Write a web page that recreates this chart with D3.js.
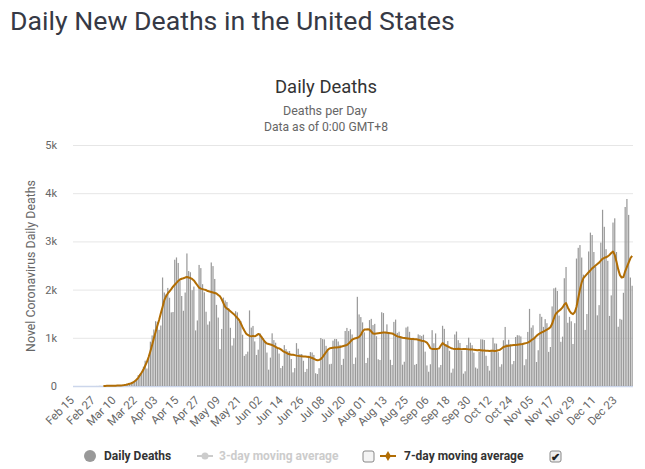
<!DOCTYPE html>
<html>
<head>
<meta charset="utf-8">
<script src="https://cdn.jsdelivr.net/npm/d3@7"></script>
<style>
  body { margin: 0; background: #fff; }
  text { font-family: Roboto, "Noto Sans", sans-serif; }
</style>
</head>
<body>
<svg id="chart" width="645" height="469"></svg>
<script>
// categories: one per day, Feb 15 2020 .. Jan 01 2021
var categories = d3.timeDay.range(new Date(2020, 1, 15), new Date(2021, 0, 2)).map(d3.timeFormat("%b %d"));

var tickLabels = ["Feb 15","Feb 27","Mar 10","Mar 22","Apr 03","Apr 15","Apr 27","May 09","May 21",
  "Jun 02","Jun 14","Jun 26","Jul 08","Jul 20","Aug 01","Aug 13","Aug 25","Sep 06","Sep 18",
  "Sep 30","Oct 12","Oct 24","Nov 05","Nov 17","Nov 29","Dec 11","Dec 23"];

var yTicks = [0, 1000, 2000, 3000, 4000, 5000];

// daily deaths, month by month
var deathsFeb = [0,0,0,0,0,0,0,0,0,0,0,0,0,1,1];
var deathsMar = [4,1,4,1,3,3,4,4,5,8,7,11,9,12,18,23,41,54,56,85,113,143,225,247,268,400,525,363,573,920,1049];
var deathsApr = [1172,1344,1330,1165,1255,2251,1940,1901,2035,1831,1528,1535,2620,2667,2553,2185,1867,1561,1939,2750,
  2385,2360,1988,2063,1153,1360,2512,2446,2112,1944];
var deathsMay = [1541,1273,1341,2563,2488,2221,1683,1420,765,1184,1834,1775,1742,1616,1207,839,991,1552,1528,1336,
  1347,1064,625,661,713,1568,1212,1246,925,644,754];
var deathsJun = [1096,1032,992,913,694,339,589,1093,952,898,794,673,372,417,848,765,718,727,560,283,
  372,889,773,663,664,524,291,355,627,703];
var deathsJul = [695,645,264,249,369,996,972,968,833,744,451,461,941,977,974,924,853,437,564,1141,
  1205,1140,1178,1069,458,590,1850,1485,1430,1320,1113];
var deathsAug = [477,584,1367,1393,1264,1289,1033,554,540,1530,1513,1124,1279,1088,543,436,1330,1378,1101,1126,
  1017,442,503,1213,1233,1124,980,999,439,457,1071];
var deathsSep = [1054,1036,1064,713,427,296,451,1158,887,1091,753,386,436,1249,1185,871,933,730,276,360,
  1069,1130,951,893,737,256,305,849,1002,898];
var deathsOct = [846,693,383,360,706,970,966,954,627,417,318,750,1001,884,879,701,399,451,949,1225,
  870,960,864,452,519,1016,1054,1049,1028,891,431];
var deathsNov = [556,1122,1600,1210,1260,1025,498,742,1497,1435,1226,1387,1303,708,809,1651,2026,2041,1971,1461,
  917,1024,2236,2469,1312,1434,1343,872,1303,2644];
var deathsDec = [2867,2924,2665,2310,1164,1493,2791,3182,3133,2780,2473,1466,1678,2975,3656,3303,2839,2597,1454,1880,
  3391,3479,2780,1229,1393,1376,1934,3714,3880,3550,2250,2080];

// 7-day moving average as drawn
var avgFeb = [null,null,null,null,null,null,null,null,null,null,null,null,null,null,null];
var avgMar = [null,null,2,2,3,3,3,4,5,6,8,10,12,15,20,27,35,45,58,72,100,130,170,225,280,340,420,500,600,720,850];
var avgApr = [990,1120,1250,1370,1510,1640,1780,1860,1920,1965,2010,2060,2100,2140,2180,2210,2225,2235,2250,2260,
  2250,2240,2220,2190,2140,2090,2040,2020,2010,2000];
var avgMay = [1990,1970,1960,1950,1940,1930,1920,1890,1860,1800,1720,1640,1610,1580,1550,1520,1490,1450,1410,1370,
  1300,1220,1150,1090,1060,1040,1030,1040,1030,1050,1080];
var avgJun = [1060,1010,960,910,880,870,860,850,830,810,790,780,760,730,710,690,670,660,650,650,
  640,630,625,620,615,610,610,605,600,595];
var avgJul = [580,565,545,535,540,560,600,650,700,750,780,790,795,800,800,805,810,820,830,840,
  850,880,920,960,980,990,1000,1020,1060,1130,1170];
var avgAug = [1170,1175,1170,1130,1090,1085,1090,1095,1100,1105,1110,1110,1105,1100,1095,1090,1070,1050,1030,1020,
  1010,1000,995,990,985,980,975,975,970,970,960];
var avgSep = [950,940,935,920,900,850,780,770,770,770,770,780,840,890,860,840,820,800,785,775,
  770,770,775,770,765,770,770,765,760,755];
var avgOct = [760,750,745,740,745,740,735,735,730,730,725,730,730,725,730,740,750,780,810,820,
  830,835,840,845,850,850,855,860,865,870,880];
var avgNov = [890,900,920,950,970,1000,1040,1070,1090,1110,1130,1150,1170,1190,1220,1290,1400,1490,1530,1560,
  1590,1630,1690,1720,1630,1560,1510,1490,1530,1640];
var avgDec = [1820,2000,2150,2240,2280,2320,2360,2400,2440,2470,2500,2530,2560,2600,2640,2660,2670,2690,2720,2760,
  2790,2720,2580,2420,2300,2250,2260,2380,2470,2560,2650,2700];

var deaths = [].concat(deathsFeb, deathsMar, deathsApr, deathsMay, deathsJun, deathsJul, deathsAug, deathsSep, deathsOct, deathsNov, deathsDec);
var avg7 = [].concat(avgFeb, avgMar, avgApr, avgMay, avgJun, avgJul, avgAug, avgSep, avgOct, avgNov, avgDec);

var svg = d3.select("#chart");
var lineColor = "#b16d04";

function fit(sel, w){
  var l = sel.node().getComputedTextLength();
  sel.attr("font-size", parseFloat(sel.attr("font-size")) * w / l);
}

// page title
svg.append("text")
  .attr("x", 10).attr("y", 30)
  .attr("font-size", 28).attr("fill", "#363945")
  .text("Daily New Deaths in the United States")
  .call(fit, 445);

// chart titles
svg.append("text").attr("x", 326).attr("y", 93).attr("text-anchor", "middle")
  .attr("font-size", 17).attr("fill", "#333").text("Daily Deaths").call(fit, 102);
svg.append("text").attr("x", 325).attr("y", 115).attr("text-anchor", "middle")
  .attr("font-size", 12).attr("fill", "#666").text("Deaths per Day").call(fit, 84);
svg.append("text").attr("x", 326).attr("y", 131).attr("text-anchor", "middle")
  .attr("font-size", 12).attr("fill", "#666").text("Data as of 0:00 GMT+8").call(fit, 124);

var x = d3.scaleBand()
  .domain(categories)
  .range([73, 633])
  .paddingInner(0.3)
  .paddingOuter(0.15);

var y = d3.scaleLinear()
  .domain([0, 5000])
  .range([386, 145]);

// grid
svg.append("g").selectAll("line")
  .data(yTicks)
  .enter().append("line")
    .attr("x1", 73).attr("x2", 633)
    .attr("y1", function(d){ return y(d) + 0.5; })
    .attr("y2", function(d){ return y(d) + 0.5; })
    .attr("stroke", function(d){ return d == 0 ? "#ccd6eb" : "#e6e6e6"; })
    .attr("stroke-width", function(d){ return d == 0 ? 1.5 : 1; });

// y axis
var yAxis = d3.axisLeft(y)
  .tickValues(yTicks)
  .tickSize(0)
  .tickPadding(0)
  .tickFormat(function(d){ return d == 0 ? "0" : (d / 1000) + "k"; });

var gy = svg.append("g").attr("transform", "translate(57,0)").call(yAxis);
gy.select(".domain").remove();
gy.selectAll("text").attr("fill", "#666").attr("font-size", 11).attr("font-family", "Roboto");

svg.append("text")
  .attr("transform", "translate(35,266) rotate(-90)")
  .attr("text-anchor", "middle")
  .attr("font-size", 12).attr("fill", "#666")
  .text("Novel Coronavirus Daily Deaths")
  .call(fit, 172);

// bars
svg.append("g").selectAll("rect")
  .data(deaths)
  .enter().append("rect")
    .attr("x", function(d, i){ return x(categories[i]); })
    .attr("width", x.bandwidth())
    .attr("y", function(d){ return y(d); })
    .attr("height", function(d){ return y(0) - y(d); })
    .attr("fill", "#999");

// 7-day line
var line = d3.line()
  .defined(function(d){ return d != null; })
  .x(function(d, i){ return x(categories[i]) + x.bandwidth() / 2; })
  .y(function(d){ return y(d); });

svg.append("path")
  .datum(avg7)
  .attr("d", line)
  .attr("fill", "none")
  .attr("stroke", lineColor)
  .attr("stroke-width", 2)
  .attr("stroke-linejoin", "round");

// x axis
var xAxis = d3.axisBottom(x)
  .tickValues(tickLabels)
  .tickSize(0)
  .tickPadding(0);

var gx = svg.append("g").attr("transform", "translate(0,386)").call(xAxis);
gx.select(".domain").remove();
gx.selectAll("text")
  .attr("font-size", 11.5).attr("fill", "#666").attr("font-family", "Roboto")
  .attr("text-anchor", "end")
  .attr("dy", 0)
  .attr("y", 0)
  .attr("transform", "translate(1,15) rotate(-45)");

// legend
var lg = svg.append("g").attr("font-size", 12).attr("font-weight", "bold");
lg.append("circle").attr("cx", 90).attr("cy", 456).attr("r", 6).attr("fill", "#999");
lg.append("text").attr("x", 104).attr("y", 460).attr("fill", "#333").text("Daily Deaths").call(fit, 70);

lg.append("line").attr("x1", 197).attr("x2", 213).attr("y1", 456).attr("y2", 456)
  .attr("stroke", "#ccc").attr("stroke-width", 2);
lg.append("circle").attr("cx", 205).attr("cy", 456).attr("r", 3.5).attr("fill", "#ccc");
lg.append("text").attr("x", 219).attr("y", 460).attr("fill", "#ccc").text("3-day moving average").call(fit, 122);

lg.append("rect").attr("x", 363).attr("y", 451).attr("width", 11).attr("height", 11).attr("rx", 2)
  .attr("fill", "#f4f4f4").attr("stroke", "#888");

lg.append("line").attr("x1", 380).attr("x2", 396).attr("y1", 456).attr("y2", 456)
  .attr("stroke", lineColor).attr("stroke-width", 2);
lg.append("path").attr("d", d3.symbol(d3.symbolDiamond, 30)).attr("transform", "translate(388,456)")
  .attr("fill", lineColor);
lg.append("text").attr("x", 404).attr("y", 460).attr("fill", "#333").text("7-day moving average").call(fit, 123);

lg.append("rect").attr("x", 550).attr("y", 451).attr("width", 11).attr("height", 11).attr("rx", 2)
  .attr("fill", "#eee").attr("stroke", "#888");
lg.append("text").attr("x", 551).attr("y", 461).attr("font-size", 11).attr("fill", "#222").text("✔");
</script>
</body>
</html>
